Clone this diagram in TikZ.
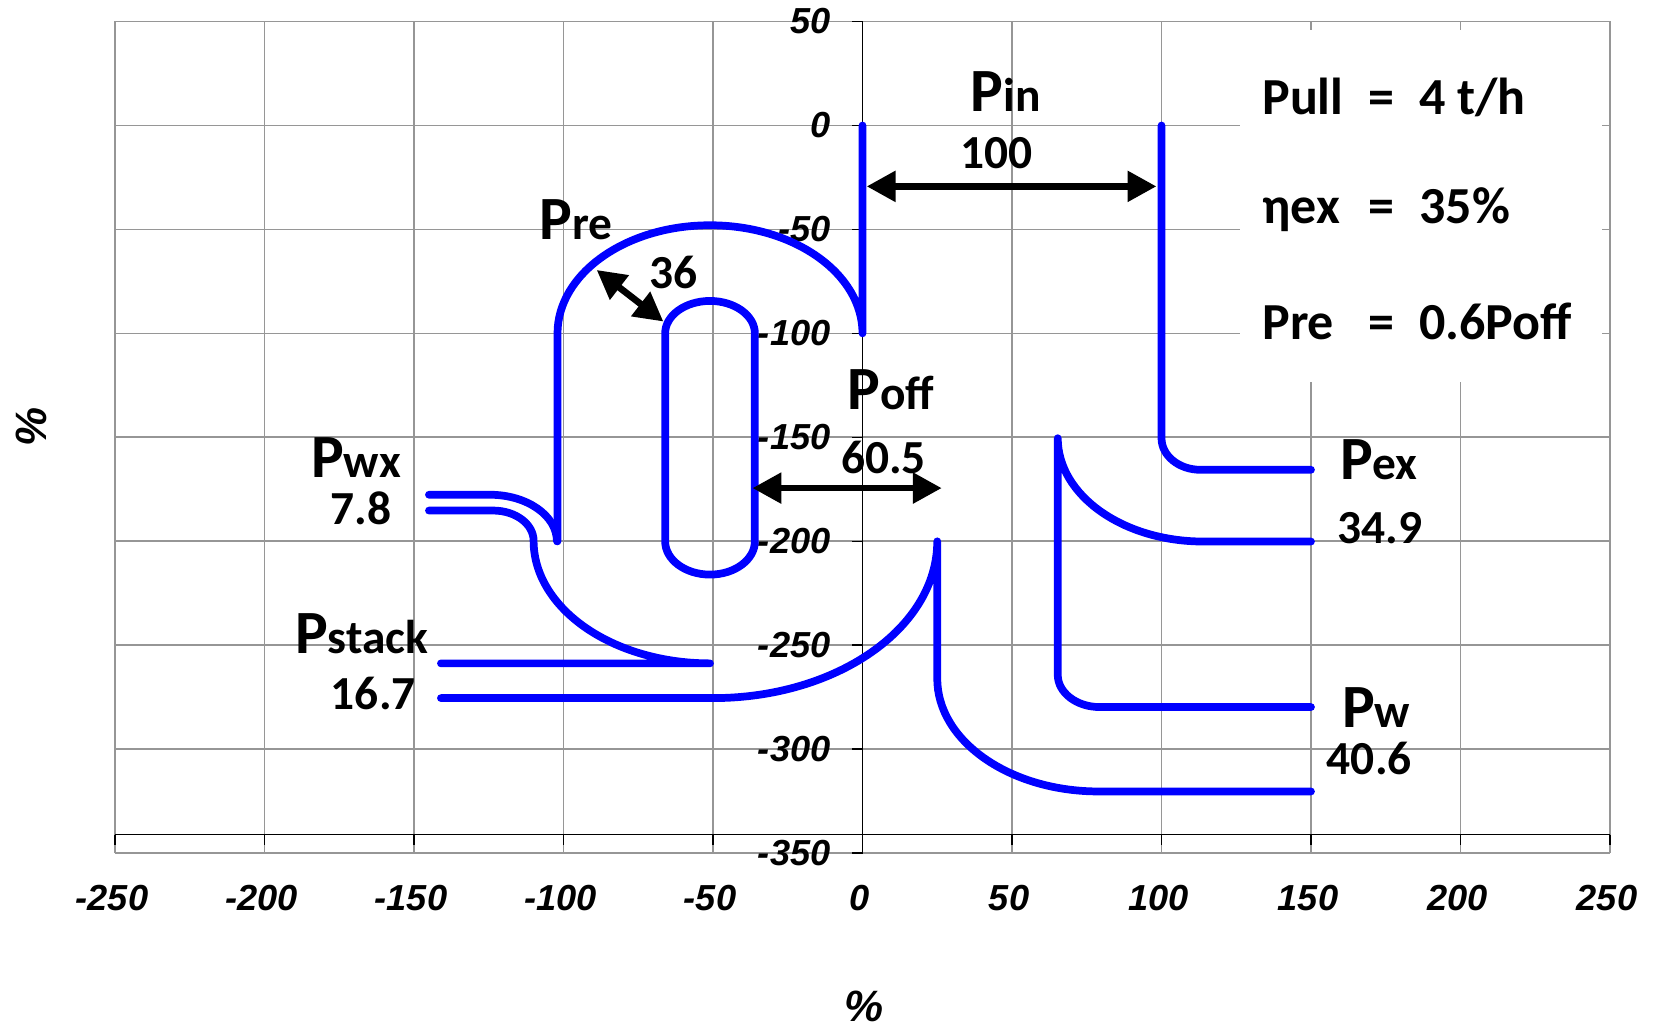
\documentclass[tikz,border=0pt]{standalone}
\usepackage{fontspec}
\setmainfont{Carlito}
\newfontfamily\axisfont{Liberation Sans}
\usetikzlibrary{arrows.meta}

\definecolor{flowblue}{RGB}{0,0,255}
\definecolor{gridgray}{RGB}{150,150,150}

% P with smaller index letters
\newcommand{\flowP}[1]{{\fontsize{17.5}{19}\selectfont P}{\fontsize{13.5}{15}\selectfont #1}}
% one line of the parameter box
\newcommand{\boxrow}[2]{\makebox[1.06cm][l]{#1}\makebox[0.51cm][l]{=}#2}

\tikzset{
  gridline/.style={gridgray, line width=0.5pt},
  axisline/.style={black, line width=0.45pt},
  flow/.style={flowblue, line width=2.2pt, line cap=round, line join=round},
  dimarrow/.style={black, line width=1.9pt, {Triangle[length=8.2pt,width=8.4pt]}-{Triangle[length=8.2pt,width=8.4pt]}},
  ticklbl/.style={font=\axisfont\bfseries\itshape\fontsize{10.3}{12}\selectfont, inner sep=0pt},
  flowlbl/.style={font=\bfseries, inner sep=0pt, anchor=base},
  numlbl/.style={font=\bfseries\fontsize{13.5}{15}\selectfont, inner sep=0pt, anchor=base},
  boxlbl/.style={font=\bfseries\fontsize{14.8}{16}\selectfont, inner sep=0pt, anchor=base west}
}

\begin{document}
\begin{tikzpicture}[x=0.0299cm, y=0.0208cm]
\useasboundingbox (-288.46,-435.34) rectangle (264.38,60.34);

% Grid
\foreach \x in {-250,-200,...,250} {
  \draw[gridline] (\x,-350) -- (\x,50);
}
\foreach \y in {-350,-300,...,50} {
  \draw[gridline] (-250,\y) -- (250,\y);
}

% Axes and ticks
\draw[axisline] (0,-350) -- (0,50);
\draw[axisline] (-250,-341) -- (250,-341);
\foreach \y in {-350,-300,...,50} {
  \draw[axisline] (-3.5,\y) -- (0,\y);
}
\foreach \x in {-250,-200,...,250} {
  \draw[axisline] (\x,-341) -- (\x,-346);
}

% Tick labels
\foreach \y [count=\i] in {-350,-300,...,50} {
  \node[ticklbl, anchor=east] (ylab\i) at (-10.5,\y) {\y};
}
\foreach \x [count=\i] in {-250,-200,...,250} {
  \node[ticklbl] (xlab\i) at (\x-1,-371.5) {\x};
}

% Axis titles
\node[font=\axisfont\bfseries\itshape\fontsize{12.5}{14}\selectfont, rotate=90] (ytitle) at (-277.9,-145) {\%};
\node[font=\axisfont\bfseries\itshape\fontsize{12.5}{14}\selectfont] (xtitle) at (0.6,-423.7) {\%};

% Parameter box
\fill[white] (126.3,-123.4) rectangle (247.4,45.7);
\node[boxlbl] (pull) at (133.5,5.4) {\boxrow{Pull}{4 t/h}};
\node[boxlbl] (etaex) at (133.5,-47) {\boxrow{ηex}{35\%}};
\node[boxlbl] (prepoff) at (133.5,-102.8) {\boxrow{Pre}{0.6Poff}};

% Input, recirculated heat and wall loss
\draw[flow] (0,0) -- (0,-100) arc[start angle=0, end angle=180, x radius=51, y radius=52] -- (-102,-200);
\draw[flow] (-145,-177.6) -- (-124.6,-177.6) arc[start angle=90, end angle=0, x radius=22.4, y radius=22.4];
\draw[flow] (-145,-185.2) -- (-123.5,-185.2) arc[start angle=90, end angle=0, x radius=13.5, y radius=14.5]
  arc[start angle=180, end angle=270, x radius=59, y radius=59] -- ++(-90,0);

% Regenerator loop
\draw[flow] (-66,-100) arc[start angle=180, end angle=0, x radius=15, y radius=15.6] -- (-36,-200)
  arc[start angle=0, end angle=-180, x radius=15, y radius=16] -- cycle;

% Off-gas and stack
\draw[flow] (-141,-275.4) -- (-50,-275.4) arc[start angle=270, end angle=360, x radius=75, y radius=75.4]
  -- (25,-266) arc[start angle=180, end angle=270, x radius=54, y radius=54.3] -- (150,-320.3);

% Exergy
\draw[flow] (100,0) -- (100,-150.4) arc[start angle=180, end angle=270, x radius=13, y radius=15.2] -- (150,-165.6);

% Wall
\draw[flow] (150,-200.1) -- (114,-200.1) arc[start angle=270, end angle=180, x radius=48.7, y radius=49.7]
  -- (65.3,-264.2) arc[start angle=180, end angle=270, x radius=14, y radius=15.5] -- (150,-279.7);

% Width arrows
\coordinate (pinL) at (1.4,-29.3);
\coordinate (pinR) at (98.3,-29.3);
\coordinate (preA) at (-88.9,-69.5);
\coordinate (preB) at (-66.6,-94.3);
\coordinate (poffL) at (-36.8,-174.4);
\coordinate (poffR) at (26.5,-174.4);
\draw[dimarrow] (pinL) -- (pinR);
\draw[dimarrow] (preA) -- (preB);
\draw[dimarrow] (poffL) -- (poffR);

% Flow labels
\node[flowlbl] (lblPin) at (47.9,6.9) {\flowP{in}};
\node[numlbl] (valPin) at (44.8,-20.7) {100};
\node[flowlbl] (lblPre) at (-95.8,-55) {\flowP{re}};
\node[numlbl] (valPre) at (-63.3,-78.3) {36};
\node[flowlbl] (lblPoff) at (9.5,-136.8) {\flowP{off}};
\node[numlbl] (valPoff) at (7,-167.2) {60.5};
\node[flowlbl] (lblPwx) at (-169.4,-169.4) {\flowP{wx}};
\node[numlbl] (valPwx) at (-167.7,-191.8) {7.8};
\node[flowlbl] (lblPstack) at (-167.5,-253.8) {\flowP{stack}};
\node[numlbl] (valPstack) at (-163.6,-281) {16.7};
\node[flowlbl] (lblPex) at (172.7,-170.3) {\flowP{ex}};
\node[numlbl] (valPex) at (173.1,-201.2) {34.9};
\node[flowlbl] (lblPw) at (171.8,-289.4) {\flowP{w}};
\node[numlbl] (valPw) at (169.5,-312.2) {40.6};

\end{tikzpicture}
\end{document}
